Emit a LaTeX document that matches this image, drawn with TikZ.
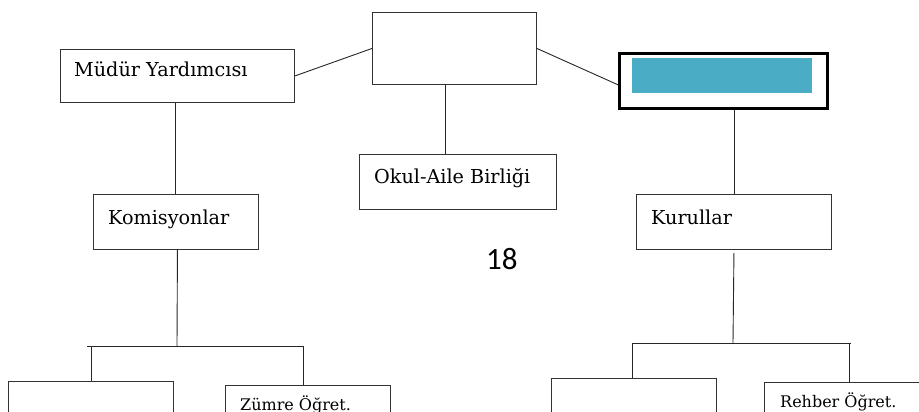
\documentclass[tikz,border=0pt]{standalone}
\usepackage{fontspec}
\setmainfont{DejaVu Serif}
\newfontfamily\numfont{Carlito}
\begin{document}
\begin{tikzpicture}[x=1pt,y=1pt,yscale=-1,
  box/.style={draw=black!80,line width=0.9pt,inner sep=0pt,anchor=north west},
  thickbox/.style={draw=black,line width=2.6pt,inner sep=0pt,anchor=north west},
  conn/.style={draw=black!85,line width=0.9pt},
  lbl/.style={anchor=base west,inner sep=0pt,font=\fontsize{19.2}{21}\selectfont},
  lbls/.style={anchor=base west,inner sep=0pt,font=\fontsize{16}{18}\selectfont}]
\useasboundingbox (0,0) rectangle (919,412);
\clip (0,0) rectangle (919,412);
% boxes
\node[box,minimum width=164pt,minimum height=72pt] (top) at (372,12) {};
\node[box,minimum width=234pt,minimum height=53pt] (my) at (60,49) {};
\node[thickbox,minimum width=208pt,minimum height=55pt] (rb) at (618,52) {};
\node[fill={rgb,255:red,75;green,172;blue,198},inner sep=0pt,anchor=north west,minimum width=180pt,minimum height=35pt] (cyan) at (632,58) {};
\node[box,minimum width=197pt,minimum height=55pt] (okul) at (359,154) {};
\node[box,minimum width=165pt,minimum height=55pt] (kom) at (93,194) {};
\node[box,minimum width=195pt,minimum height=55pt] (kur) at (636,194) {};
\node[box,minimum width=165pt,minimum height=60pt] (bl) at (8,381) {};
\node[box,minimum width=165pt,minimum height=60pt] (zum) at (225,385) {};
\node[box,minimum width=165pt,minimum height=60pt] (br) at (551,378) {};
\node[box,minimum width=170pt,minimum height=60pt] (reh) at (764,382) {};
% texts
\node[lbl] (tmy) at (74,77) {Müdür Yardımcısı};
\node[lbl] (tokul) at (374,183) {Okul-Aile Birliği};
\node[lbl] (tkom) at (108,224) {Komisyonlar};
\node[lbl] (tkur) at (651,224) {Kurullar};
\node[lbls] (tzum) at (240,410) {Zümre Öğret.};
\node[lbls] (treh) at (780,407) {Rehber Öğret.};
\node[anchor=base west,inner sep=0pt,font=\numfont\fontsize{31}{33}\selectfont] (num) at (486,269) {18};
% connectors
\draw[conn] (my.east) -- (top.west);
\draw[conn] (top.east) -- ([yshift=4pt]rb.west);
\draw[conn] ([xshift=-9pt]top.south) -- ([xshift=-9pt]top.south |- okul.north);
\draw[conn] ([xshift=-2pt]my.south) -- ([xshift=-2pt]my.south |- kom.north);
\draw[conn] (rb.south -| kur.north) -- (kur.north);
% left tree
\coordinate (lj) at (177,346);
\coordinate (ll) at (87,346);
\coordinate (lr) at (303,346);
\draw[conn] ([xshift=1.5pt]kom.south) -- (lj);
\draw[conn] (ll) -- (lr);
\draw[conn] (bl.north) -- (bl.north |- lj);
\draw[conn] ([xshift=-5pt]zum.north) -- ([xshift=-5pt]zum.north |- lr);
% right tree
\coordinate (rj) at (733,343);
\coordinate (rl) at (632,343);
\coordinate (rr) at (851,343);
\coordinate (rv) at (849,343);
\draw[conn] ([yshift=3pt]kur.south) -- (rj);
\draw[conn] (rl) -- (rr);
\draw[conn] ([xshift=-1.5pt]br.north) -- ([xshift=-1.5pt]br.north |- rl);
\draw[conn] (rv) -- (rv |- reh.north);
\end{tikzpicture}
\end{document}
